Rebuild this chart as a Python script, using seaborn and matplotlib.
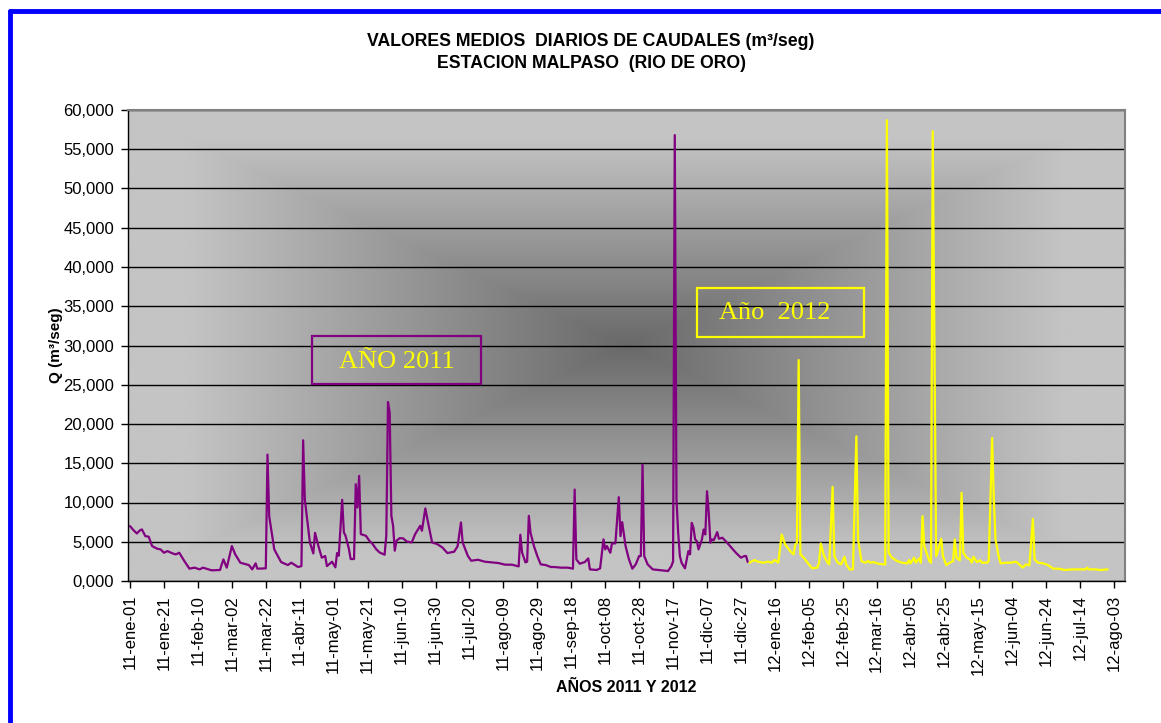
import numpy as np
import pandas as pd
import matplotlib
matplotlib.use("Agg")
import matplotlib.pyplot as plt
import seaborn as sns
from matplotlib.lines import Line2D
from matplotlib.patches import Rectangle

# day offset from 01-ene-2011 and daily mean flow (m3/seg)
days_2011 = [0, 2, 4, 6, 7, 9, 11, 13, 16, 18, 20, 22, 25, 27, 29, 32, 35, 38, 41, 43,
             48, 53, 55, 57, 60, 62, 65, 70, 72, 74, 75, 80, 81, 82, 85, 89, 93, 95, 99, 101,
             102, 103, 106, 108, 109, 111, 113, 115, 116, 118, 119, 121, 122, 123, 125, 126, 127, 129, 130, 132,
             133, 134, 135, 136, 139, 141, 143, 145, 147, 150, 151, 152, 153, 154, 155, 156, 157, 159, 161, 163,
             166, 168, 171, 172, 174, 176, 178, 181, 184, 187, 191, 193, 195, 196, 199, 201, 205, 209, 213, 217,
             221, 225, 229, 230, 231, 233, 234, 235, 236, 238, 240, 242, 245, 248, 250, 254, 258, 261, 262, 263,
             265, 268, 270, 271, 275, 277, 279, 280, 281, 283, 284, 286, 288, 289, 290, 292, 294, 296, 298, 300,
             301, 302, 303, 305, 308, 313, 317, 319, 320, 321, 322, 323, 324, 325, 327, 329, 330, 331, 332, 333,
             334, 335, 337, 338, 339, 340, 341, 342, 343, 344, 346, 347, 349, 351, 353, 357, 360, 362, 363, 364]
flow_2011 = [6990, 6480, 6060, 6480, 6570, 5720, 5640, 4450, 4110, 4025, 3600, 3810, 3520, 3390, 3600, 2540, 1570, 1700, 1480, 1700,
             1360, 1400, 2750, 1700, 4450, 3390, 2330, 2030, 1480, 2250, 1570, 1610, 16100, 8260, 4025, 2415, 2030, 2330, 1780, 1900,
             17920, 10380, 4870, 3520, 6140, 4450, 2970, 3180, 1900, 2250, 2460, 1740, 3560, 3220, 10340, 6190, 5760, 4070, 2800, 2800,
             12330, 9360, 13390, 5970, 5760, 5130, 4700, 4070, 3640, 3350, 5760, 22800, 21440, 8300, 7030, 3860, 5130, 5470, 5420, 5040,
             4910, 5970, 7030, 6400, 9240, 7030, 4910, 4700, 4280, 3560, 3730, 4410, 7460, 4910, 3220, 2580, 2710, 2460, 2370, 2290,
             2080, 2080, 1860, 5890, 3640, 2370, 2460, 8300, 6140, 4450, 3180, 2120, 2030, 1780, 1780, 1700, 1700, 1570, 11650, 2750,
             2200, 2415, 2880, 1480, 1400, 1610, 5300, 4025, 4450, 3600, 4790, 4790, 10680, 5720, 7500, 4450, 2750, 1570, 2120, 3180,
             3180, 14830, 3180, 2120, 1480, 1360, 1270, 1900, 2500, 56800, 10380, 6140, 3180, 2330, 1610, 3810, 3390, 7410, 6780, 5300,
             5080, 4025, 5300, 6570, 5930, 11440, 8690, 4870, 5300, 5210, 6230, 5380, 5510, 5080, 4580, 3600, 2970, 3180, 3180, 2415]

days_2012 = [365, 368, 370, 373, 376, 378, 380, 382, 384, 386, 389, 391, 392, 393, 394, 395, 397, 400, 402, 405,
             406, 407, 409, 411, 412, 414, 415, 417, 419, 421, 422, 424, 426, 428, 429, 431, 433, 435, 436, 438,
             441, 444, 445, 446, 447, 449, 452, 455, 458, 459, 460, 462, 463, 465, 466, 467, 468, 471, 472, 473,
             475, 476, 478, 479, 481, 483, 485, 486, 487, 489, 490, 491, 493, 495, 496, 497, 499, 501, 502, 505,
             506, 508, 509, 510, 512, 513, 516, 519, 522, 524, 526, 528, 530, 532, 533, 535, 538, 541, 544, 547,
             551, 555, 559, 563, 564, 565, 569, 572, 576]
flow_2012 = [2330, 2670, 2460, 2330, 2460, 2330, 2670, 2330, 5930, 4660, 3810, 3390, 4660, 4870, 28150, 3390, 2970, 2120, 1610, 1700,
             2330, 4790, 3180, 2330, 2120, 11990, 3180, 2330, 2120, 3090, 2120, 1480, 1480, 18430, 5300, 2540, 2330, 2540, 2330, 2415,
             2200, 2120, 2120, 58700, 3600, 2970, 2540, 2330, 2250, 2670, 2250, 2970, 2330, 2880, 2330, 8260, 4450, 2540, 2330, 57300,
             3180, 3810, 5380, 3180, 2030, 2330, 2540, 5300, 2970, 2630, 11230, 3600, 2970, 2750, 2330, 3090, 2415, 2630, 2330, 2330,
             2540, 18220, 10380, 5300, 2970, 2250, 2330, 2330, 2460, 2120, 1700, 2120, 1990, 7920, 2750, 2330, 2250, 2030, 1570, 1570,
             1400, 1480, 1480, 1480, 1700, 1480, 1480, 1400, 1480]

y_ticks = list(range(0, 60001, 5000))
y_tick_labels = [f"{v // 1000},{v % 1000:03d}" for v in y_ticks]
x_tick_days = list(range(0, 581, 20))
meses = ["ene", "feb", "mar", "abr", "may", "jun", "jul", "ago", "sep", "oct", "nov", "dic"]
start = pd.Timestamp("2011-01-01")
x_tick_labels = []
for d in x_tick_days:
    t = start + pd.Timedelta(days=d)
    x_tick_labels.append(f"{t.year % 100}-{meses[t.month - 1]}-{t.day:02d}")

sns.set_style("white")
plt.rcParams['font.family'] = ['Liberation Sans', 'DejaVu Sans']
plt.rcParams['text.color'] = 'black'
plt.rcParams['axes.labelcolor'] = 'black'
plt.rcParams['xtick.color'] = 'black'
plt.rcParams['ytick.color'] = 'black'

W, H = 1161, 723
fig = plt.figure(figsize=(W / 100, H / 100), dpi=100)
ax = fig.add_axes([128 / W, (H - 581) / H, 997 / W, 471 / H])

xmin, xmax = -1.2, 586.3
ymin, ymax = 0, 60000

# boxy "from center" gray gradient of the plot area
gu = np.linspace(-1, 1, 800)
gv = np.linspace(-1, 1, 400)
U, V = np.meshgrid(gu, gv)
t = np.maximum(np.abs(U), np.abs(V))
g = np.clip(105 + 95 * t / 0.92, 0, 196) / 255
ax.imshow(np.dstack([g, g, g]), extent=(xmin, xmax, ymin, ymax), aspect='auto',
          zorder=0, interpolation='bilinear')

sns.lineplot(x=days_2011, y=flow_2011, color="#800080", linewidth=1.6, ax=ax, zorder=3)
sns.lineplot(x=days_2012, y=flow_2012, color="#FFFF00", linewidth=1.6, ax=ax, zorder=3)

ax.set_xlim(xmin, xmax)
ax.set_ylim(ymin, ymax)
ax.set_yticks(y_ticks)
ax.set_yticklabels(y_tick_labels, fontsize=12)
ax.set_xticks(x_tick_days)
ax.set_xticklabels(x_tick_labels, rotation=90, fontsize=12, ha='center', va='top')
ax.yaxis.grid(True, color='black', linewidth=1.0, zorder=1)
ax.xaxis.grid(False)
ax.tick_params(axis='both', which='major', direction='out', length=5, width=1,
               color='black', pad=5, bottom=True, left=True)

for side in ['left', 'bottom']:
    ax.spines[side].set_color('black')
    ax.spines[side].set_linewidth(1.0)
for side in ['top', 'right']:
    ax.spines[side].set_color('#808080')
    ax.spines[side].set_linewidth(1.5)

ax.set_xlabel('AÑOS 2011 Y 2012', fontsize=11.5, fontweight='bold', labelpad=4)
ax.set_ylabel('Q (m³/seg)', fontsize=11, fontweight='bold', labelpad=0)

# year boxes
ax.add_patch(Rectangle((107.2, 25100), 99.6, 6110, fill=False, edgecolor="#800080",
                       linewidth=1.6, zorder=4))
ax.text(157, 27950, 'AÑO 2011', color="#FFFF00", fontsize=19, family='Liberation Serif',
        ha='center', va='center', zorder=5)
ax.add_patch(Rectangle((334.1, 31080), 98.4, 6240, fill=False, edgecolor="#FFFF00",
                       linewidth=1.6, zorder=4))
ax.text(380, 34150, 'Año  2012', color="#FFFF00", fontsize=19, family='Liberation Serif',
        ha='center', va='center', zorder=5)

fig.text(591 / W, 1 - 42 / H, 'VALORES MEDIOS  DIARIOS DE CAUDALES (m³/seg)',
         fontsize=12.7, fontweight='bold', ha='center', va='center')
fig.text(591 / W, 1 - 64 / H, 'ESTACION MALPASO  (RIO DE ORO)',
         fontsize=12.7, fontweight='bold', ha='center', va='center')

# blue frame of the chart object
fig.add_artist(Line2D([9.5 / W, 1.0], [1 - 11 / H, 1 - 11 / H], color='#0000FF',
                      linewidth=3.5, transform=fig.transFigure))
fig.add_artist(Line2D([9.5 / W, 9.5 / W], [0, 1 - 11 / H], color='#0000FF',
                      linewidth=3.5, transform=fig.transFigure))

fig.savefig('out.png', dpi=100)
